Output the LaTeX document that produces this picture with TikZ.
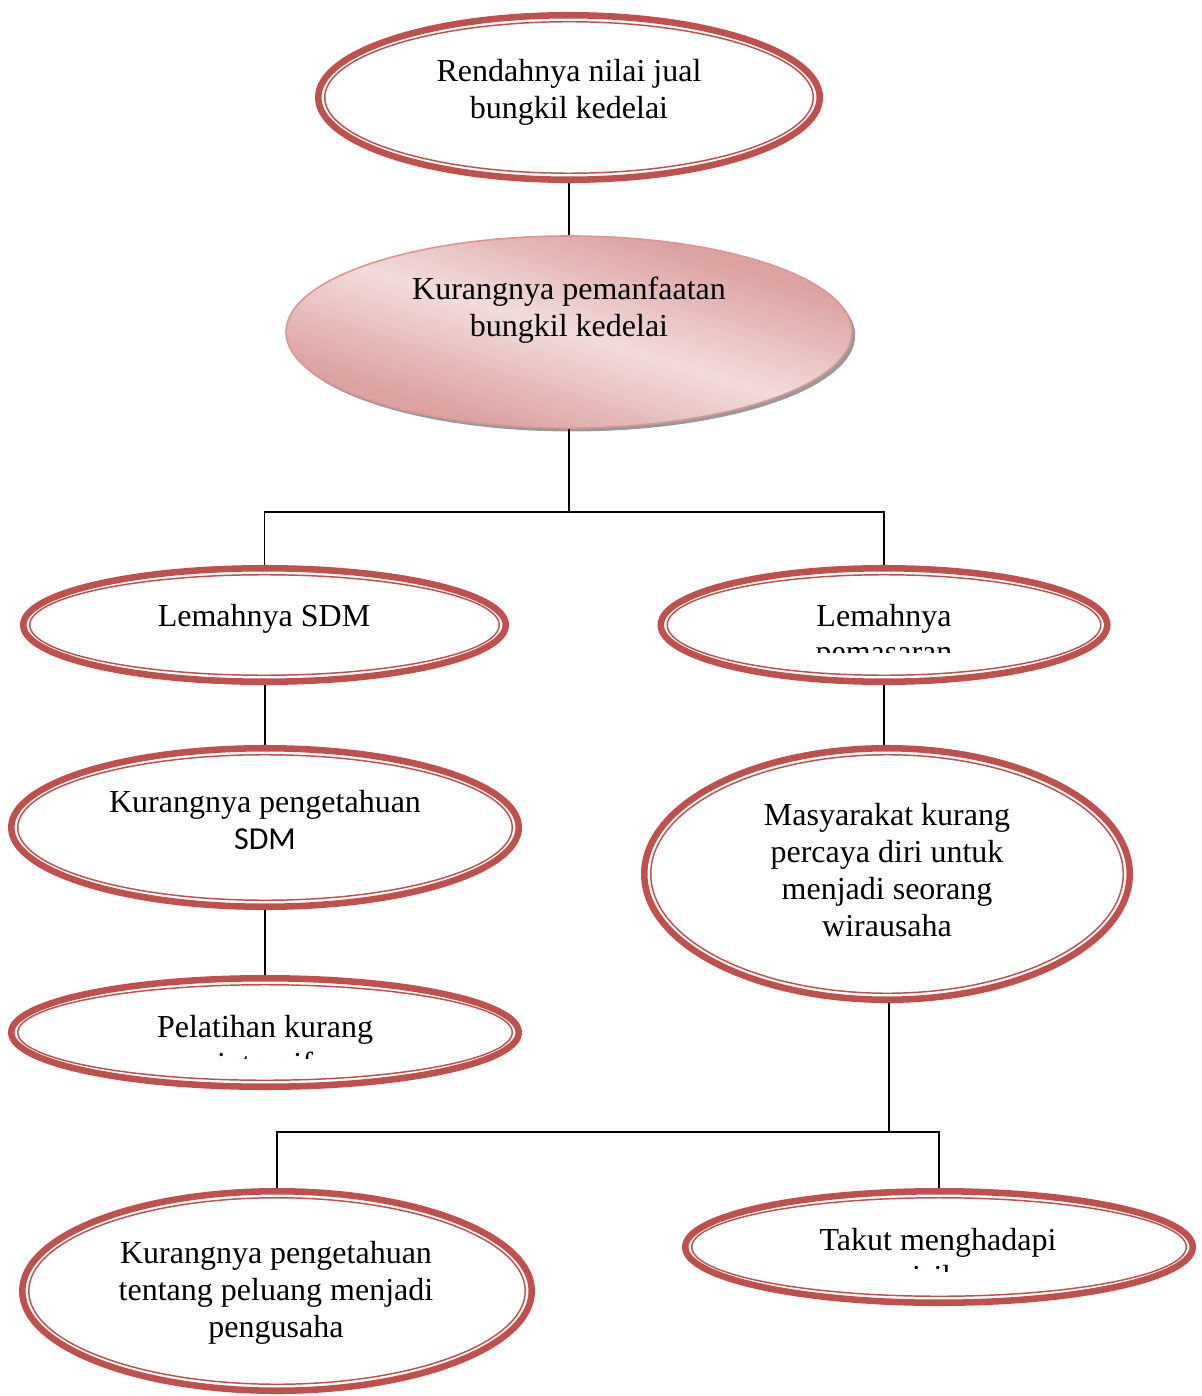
\documentclass[tikz,border=0pt]{standalone}
\usepackage{fontspec}
\setmainfont{Liberation Serif}
\newfontfamily\calfont{Carlito}
\usetikzlibrary{shapes.geometric,shadows}
\definecolor{ringred}{HTML}{C0504D}
\definecolor{pinkdark}{HTML}{DCA2A2}
\definecolor{pinklight}{HTML}{F2DCDB}
\definecolor{pinkline}{HTML}{D99694}
\pgfdeclareverticalshading{pinkband}{100bp}{color(0bp)=(pinkdark); color(30bp)=(pinkdark); color(50bp)=(pinklight); color(70bp)=(pinkdark); color(100bp)=(pinkdark)}
\tikzset{
  ring/.style={ellipse, draw=ringred, line width=2.45pt, inner sep=0pt, fill=white},
  ringin/.style={draw=ringred, line width=0.55pt},
  txt/.style={font=\fontsize{12}{13.875}\selectfont, inner sep=0pt, anchor=base},
  conn/.style={draw=black, line width=0.6pt},
}
\newcommand\ringnode[5]{%
  \node[ring, minimum width={(2*#4-6.5)*0.375pt}, minimum height={(2*#5-6.5)*0.375pt}] (#1) at (#2,#3) {};
  \draw[ringin] (#1.center) ellipse [x radius={(#4-9.75)*0.375pt}, y radius={(#5-9.75)*0.375pt}];
}
\begin{document}
\begin{tikzpicture}[x=0.375pt, y=-0.375pt]
\useasboundingbox (0,0) rectangle (1201,1396);
\coordinate (j1) at (569,512);
\coordinate (j2) at (889,1132);
% top
\ringnode{top}{569}{97.5}{254}{85.5}
% second
\node[ellipse, draw=pinkline, line width=0.6pt, minimum width={566*0.375pt}, minimum height={192*0.375pt}, inner sep=0pt,
  shading=pinkband, shading angle=-17,
  general shadow={fill=black!40, shadow xshift=1.2pt, shadow yshift=-1.3pt}] (k2) at (569,332) {};
\ringnode{l1}{264.5}{625}{244.5}{60}
\ringnode{l2}{884}{625}{226.5}{60}
\ringnode{k3}{265}{827.5}{257}{82.5}
\ringnode{m}{887}{874}{246}{129}
\ringnode{p}{265}{1032.5}{257}{57.5}
\ringnode{kt}{277}{1291}{258}{103}
\ringnode{tk}{939}{1247}{257}{59}
% connectors
\draw[conn] (top.south) -- (k2.north);
\draw[conn] (k2.south) -- (j1) -| (l1.north);
\draw[conn] (j1) -| (l2.north);
\draw[conn] (l1.south -| k3.north) -- (k3.north);
\draw[conn] (k3.south) -- (p.north);
\draw[conn] (l2.south) -- (l2.south |- m.north);
\draw[conn] (j2 |- m.south) -- (j2) -| (kt.north);
\draw[conn] (j2) -| (tk.north);
% texts
\node[txt] (t1a) at (569,82) {Rendahnya nilai jual};
\node[txt] (t1b) at (569,119) {bungkil kedelai};
\node[txt] (t2a) at (569,300) {Kurangnya pemanfaatan};
\node[txt] (t2b) at (569,337) {bungkil kedelai};
\node[txt] (t3) at (264,626) {Lemahnya SDM};
\node[txt] (t4a) at (884,626) {Lemahnya};
\begin{scope}
\clip (700,640) rectangle (1070,652);
\node[txt] (t4b) at (884,662) {pemasaran};
\end{scope}
\node[txt] (t5a) at (265,812) {Kurangnya pengetahuan};
\node[txt, font=\calfont\fontsize{12}{13.875}\selectfont] (t5b) at (265,849) {SDM};
\node[txt] (t6a) at (887,825) {Masyarakat kurang};
\node[txt] (t6b) at (887,862) {percaya diri untuk};
\node[txt] (t6c) at (887,899) {menjadi seorang};
\node[txt] (t6d) at (887,936) {wirausaha};
\node[txt] (t7a) at (265,1037) {Pelatihan kurang};
\begin{scope}
\clip (100,1045) rectangle (430,1058.5);
\node[txt] (t7b) at (265,1074) {intensif};
\end{scope}
\node[txt] (t8a) at (276,1263) {Kurangnya pengetahuan};
\node[txt] (t8b) at (276,1300) {tentang peluang menjadi};
\node[txt] (t8c) at (276,1337) {pengusaha};
\node[txt] (t9a) at (938,1250) {Takut menghadapi};
\begin{scope}
\clip (800,1258) rectangle (1080,1271);
\node[txt] (t9b) at (938,1287) {risiko};
\end{scope}
\end{tikzpicture}
\end{document}
